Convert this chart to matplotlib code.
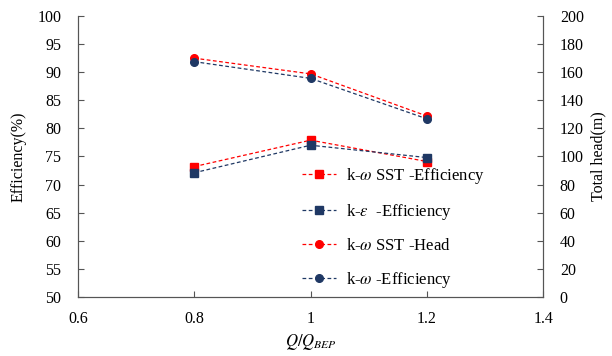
import matplotlib
matplotlib.use("Agg")
import matplotlib.pyplot as plt

plt.rcParams['font.family'] = ['Liberation Serif', 'DejaVu Serif']
plt.rcParams['mathtext.fontset'] = 'stix'

flow_ratio = [0.8, 1.0, 1.2]
eff_kw_sst = [73.2, 77.9, 74.1]
eff_ke = [72.1, 77.0, 74.8]
head_kw_sst = [170.0, 158.8, 128.8]
eff_kw = [167.5, 155.6, 126.8]

labels = [
	r"k-$\omega$ SST -Efficiency",
	r"k-$\varepsilon$  -Efficiency",
	r"k-$\omega$ SST -Head",
	r"k-$\omega$ -Efficiency",
]

RED = "#ff0000"
BLUE = "#1f3864"

fig = plt.figure(figsize=(6.12, 3.56), dpi=100)
ax = fig.add_axes([0.1275, 0.166, 0.76, 0.789])
ax2 = ax.twinx()

style = dict(ls="--", lw=0.9, ms=5.5, dashes=(3, 2))
l1, = ax.plot(flow_ratio, eff_kw_sst, color=RED, marker="s", **style)
l2, = ax.plot(flow_ratio, eff_ke, color=BLUE, marker="s", **style)
l3, = ax2.plot(flow_ratio, head_kw_sst, color=RED, marker="o", **style)
l4, = ax2.plot(flow_ratio, eff_kw, color=BLUE, marker="o", **style)

ax.set_xlim(0.6, 1.4)
ax.set_ylim(50, 100)
ax2.set_ylim(0, 200)
ax.set_xticks([0.6, 0.8, 1.0, 1.2, 1.4])
ax.set_xticklabels(["0.6", "0.8", "1", "1.2", "1.4"])
ax.set_yticks(range(50, 101, 5))
ax2.set_yticks(range(0, 201, 20))

for a in (ax, ax2):
	a.spines["top"].set_visible(False)
	a.tick_params(direction="in", length=4, width=0.8, color="#555555", labelsize=11.5)
	for s in a.spines.values():
		s.set_color("#555555")
ax.tick_params(axis="y", pad=12)
ax2.tick_params(axis="y", pad=12)
ax.tick_params(axis="x", pad=10)

ax.set_ylabel("Efficiency(%)", fontsize=11.5, labelpad=8)
ax2.set_ylabel("Total head(m)", fontsize=11.5, labelpad=5)
ax.set_xlabel(r"$Q/Q_{BEP}$", fontsize=12, labelpad=4)

ax2.legend([l1, l2, l3, l4], labels, loc="lower left", bbox_to_anchor=(0.45, -0.03),
	frameon=False, fontsize=12, handlelength=2.0, labelspacing=0.97, handletextpad=0.6)

fig.savefig("out.png", dpi=100)
